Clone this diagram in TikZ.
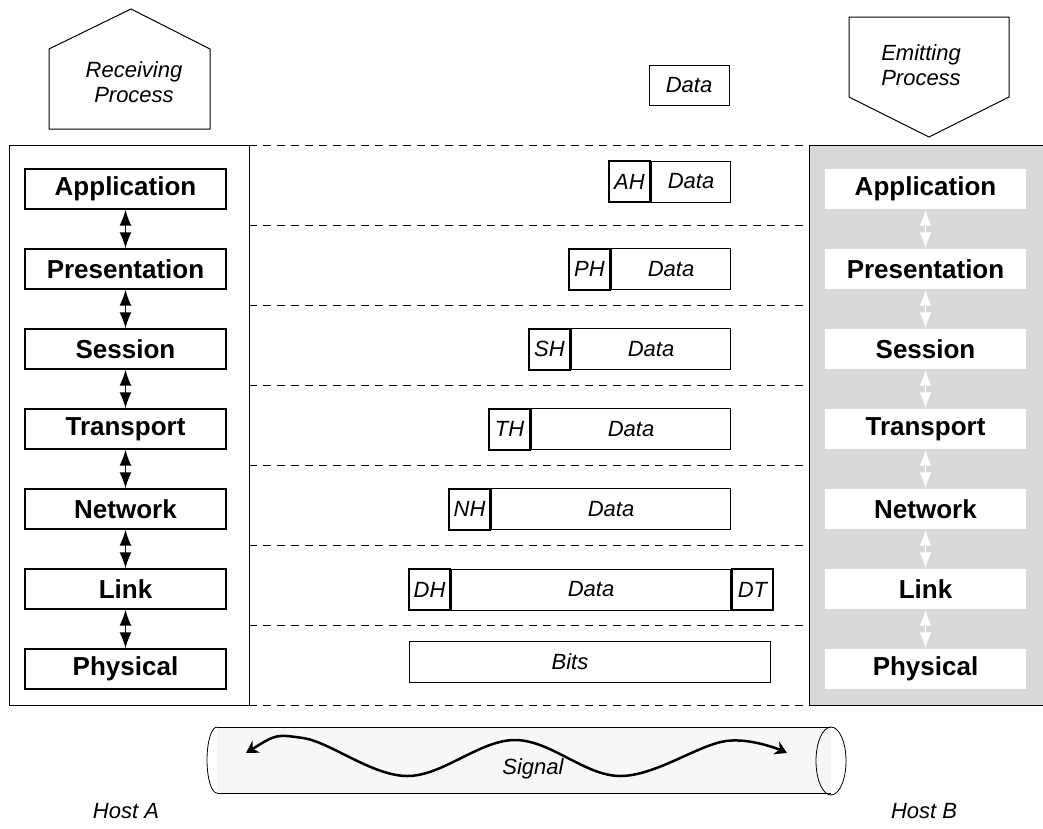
\documentclass[tikz,border=0pt]{standalone}
\usepackage{fontspec}
\setmainfont{Liberation Sans}
\usetikzlibrary{arrows.meta}
\usetikzlibrary{positioning}

\begin{document}
\begin{tikzpicture}[
    x=1pt, y=-1pt,
    font=\fontsize{22}{25}\selectfont\itshape,
    layer/.style={
        draw,
        line width=1.3pt,
        minimum width=201,
        minimum height=40,
        inner sep=0pt,
        font=\fontsize{26}{28}\selectfont\bfseries
    },
    layerB/.style={
        layer,
        draw=none,
        fill=white
    },
    hdr/.style={
        draw,
        line width=2pt,
        minimum width=41,
        minimum height=41,
        inner sep=0pt
    },
    pay/.style={
        draw,
        line width=1pt,
        minimum height=41,
        inner sep=0pt
    },
    sep/.style={
        line width=1pt,
        dash pattern=on 8pt off 6pt
    },
    arr/.style={
        {Latex[length=16pt,width=12pt]}-{Latex[length=16pt,width=12pt]},
        line width=1.5pt
    },
    arrB/.style={
        arr,
        white
    },
    note/.style={
        align=center
    }
]
\useasboundingbox (0,0) rectangle (1043,828);

% Hosts
\draw[line width=1pt] (9,145) rectangle (249,705);
\fill[gray!30] (809,145) rectangle (1043,705);
\draw[line width=1pt] (1043,145) -- (809,145) -- (809,705) -- (1043,705);

% Processes
\draw[line width=1pt] (49,129) -- (49,49) -- (131,9) -- (210,49) -- (210,129) -- cycle;
\node[note] (recv) at (134,82) {Receiving\\Process};
\draw[line width=1pt] (849,17) -- (1009,17) -- (1009,97) -- (929,137) -- (849,97) -- cycle;
\node[note] (emit) at (921,65) {Emitting\\Process};

% Layers
\foreach \name [count=\i] in {Application,Presentation,Session,Transport,Network,Link,Physical} {
    \node[layer] (la\i) at (125.5,109+80*\i) {\name};
    \node[layerB] (lb\i) at (925.5,109+80*\i) {\name};
}
\foreach \i/\j in {1/2,2/3,3/4,4/5,5/6,6/7} {
    \draw[arr] (la\i) -- (la\j);
    \draw[arrB] (lb\i) -- (lb\j);
}

% Separators
\foreach \y in {145,225,...,705}
    \draw[sep] (249,\y) -- (809,\y);

% Packets
\node[pay, minimum width=80, minimum height=40] (data) at (689,85) {Data};
\foreach \h/\x/\y/\w in {AH/629.5/181.5/79, PH/589.5/269/119, SH/549.5/349/159,
                         TH/509.5/429/199, NH/469.5/509/239, DH/429.5/589.5/279} {
    \node[hdr] (h\h) at (\x,\y) {\h};
    \node[pay, minimum width=\w, right=0pt of h\h] (d\h) {Data};
}
\node[hdr, right=0pt of dDH] (hDT) {DT};
\node[pay, minimum width=361] (bits) at (589.5,661.5) {};
\node (bitslbl) at (570,661.5) {Bits};

% Medium
\fill[gray!6] (217,727) rectangle (831,793);
\draw[line width=1pt] (217,727) -- (831,727);
\draw[line width=1pt] (217,793) -- (831,793);
\draw[line width=0.8pt] (217,793) arc[start angle=90, end angle=270, x radius=10, y radius=33];
\draw[line width=0.8pt] (831,761) ellipse[x radius=15, y radius=34];
\draw[line width=2.5pt, {Stealth[length=12pt,width=14pt,inset=4pt]}-{Stealth[length=12pt,width=14pt,inset=4pt]}]
    plot[smooth, tension=0.6] coordinates {(246,753) (303,738) (407,776) (515,740) (620,776) (726,741) (787,753)};
\node (signal) at (533,769) {Signal};

% Host labels
\node (hosta) at (126,811) {Host A};
\node (hostb) at (924,811) {Host B};

\end{tikzpicture}
\end{document}
